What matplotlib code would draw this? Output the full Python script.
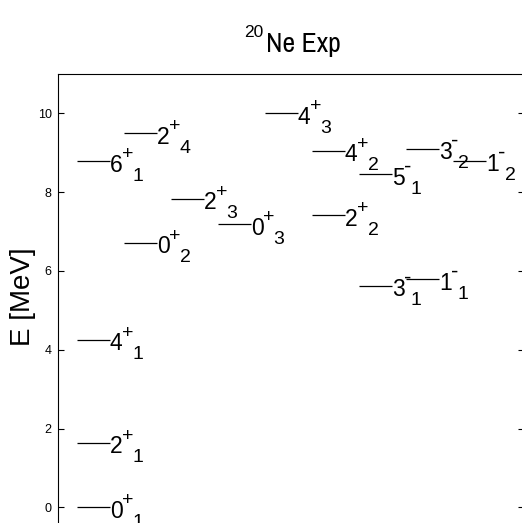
import matplotlib
matplotlib.use("Agg")
import matplotlib.pyplot as plt
from matplotlib import font_manager as fm
from matplotlib.transforms import IdentityTransform

# ---- data ----
spins = ["0", "2", "4", "6", "0", "2", "2", "0", "4", "2", "4", "5", "3", "3", "1", "1"]
parities = ["+", "+", "+", "+", "+", "+", "+", "+", "+", "+", "+", "-", "-", "-", "-", "-"]
indices = ["1", "1", "1", "1", "2", "4", "3", "3", "3", "2", "2", "1", "1", "2", "1", "2"]
columns = [0, 0, 0, 0, 1, 1, 2, 3, 4, 5, 5, 6, 6, 7, 7, 8]
energies = [0.0, 1.634, 4.248, 8.78, 6.72, 9.49, 7.83, 7.19, 10.0, 7.42, 9.05, 8.45, 5.62, 9.10, 5.79, 8.80]
yticks = [0, 2, 4, 6, 8, 10]
title_main = "Ne Exp"
title_sup = "20"
ylabel = "E [MeV]"

# locate fonts
files = {p.split("/")[-1].lower(): p for p in fm.findSystemFonts()}


def pick(options):
    for o in options:
        if o.lower() in files:
            return files[o.lower()]
    return None


lib_reg = pick(["LiberationSans-Regular.ttf", "Arial.ttf"])
narrow = pick(["LiberationSansNarrow-Regular.ttf", "ArchivoNarrow[wght].ttf",
               "ArchivoNarrow-Regular.ttf", "DejaVuSansCondensed.ttf"])


def fp(size, use_narrow=False):
    path = narrow if (use_narrow and narrow) else lib_reg
    if path:
        return fm.FontProperties(fname=path, size=size)
    return fm.FontProperties(family=["Liberation Sans", "DejaVu Sans"], size=size)


W, H = 522, 523
fig = plt.figure(figsize=(W / 100, H / 100), dpi=100)
left_px, right_px, top_px, bot_px = 58, 524, 74, 527
ax = fig.add_axes([left_px / W, (H - bot_px) / H, (right_px - left_px) / W, (bot_px - top_px) / H])

bar_len = 0.70
ax.hlines(energies, [c for c in columns], [c + bar_len for c in columns], colors="black", lw=0.9)
ax.set_xlim(-(77 - 58) / 47.0, (524 - 77) / 47.0)
ax.set_ylim(-0.5, 11.0)
ax.set_xticks([])
ax.set_yticks(yticks)
ax.set_yticklabels([str(t) for t in yticks])
for lab in ax.get_yticklabels():
    lab.set_fontproperties(fp(9))
ax.tick_params(axis="y", direction="in", length=4, width=0.8, right=True, left=True, pad=4.5)
ax.spines["bottom"].set_visible(False)
for s in ax.spines.values():
    s.set_linewidth(0.8)

fig.text(23 / W, 1 - 297 / H, ylabel, rotation=90, ha="center", va="center", fontproperties=fp(20))

fig.canvas.draw()
renderer = fig.canvas.get_renderer()
ident = IdentityTransform()

main_fs, small_fs = 16.5, 14.0
for s, p, i, c, e in zip(spins, parities, indices, columns, energies):
    x, y = ax.transData.transform((c + bar_len, e))
    base = y - 10.5
    t = fig.text(x, base, s, transform=ident, ha="left", va="baseline", fontproperties=fp(main_fs))
    bb = t.get_window_extent(renderer)
    psize = small_fs if p == "+" else small_fs + 2
    t2 = fig.text(bb.x1 - 0.5, base + 12.5, p, transform=ident, ha="left", va="baseline", fontproperties=fp(psize))
    bb2 = t2.get_window_extent(renderer)
    fig.text(bb2.x1 - 1.0, base - 9, i, transform=ident, ha="left", va="baseline", fontproperties=fp(small_fs))

# title
fig.text(266, H - 51.7, title_main, transform=ident, ha="left", va="baseline", fontproperties=fp(20, use_narrow=True))
fig.text(244, H - 36.7, title_sup, transform=ident, ha="left", va="baseline", fontproperties=fp(12.5))

fig.savefig("out.png", dpi=100)
